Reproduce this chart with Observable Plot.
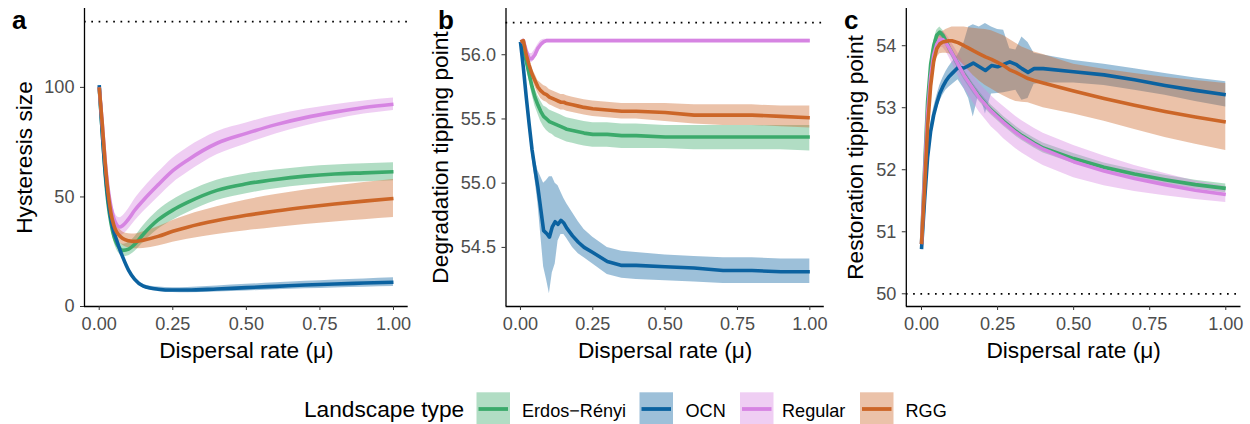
<!DOCTYPE html>
<html><head><meta charset="utf-8">
<script src="https://cdn.jsdelivr.net/npm/d3@7"></script>
<script src="https://cdn.jsdelivr.net/npm/@observablehq/plot@0.6"></script>
<style>
body{margin:0;background:#fff;}
#fig{position:relative;width:1250px;height:424px;overflow:hidden;font-family:"Liberation Sans",Arial,Helvetica,sans-serif;background:#fff;}
.panel{position:absolute;top:0;}
</style></head><body>
<div id="fig">
<div class="panel" id="pa" style="left:0px"></div>
<div class="panel" id="pb" style="left:420px"></div>
<div class="panel" id="pc" style="left:830px"></div>
<svg id="ov" width="1250" height="424" style="position:absolute;left:0;top:0;pointer-events:none"></svg>
</div>
<script>
// ---------- categories & colours ----------
const types = ["Erdos−Rényi", "OCN", "Regular", "RGG"];
const colors = ["#3BAA6B", "#0B62A0", "#D684E2", "#CC6628"];
const xTicks = [0, 0.25, 0.5, 0.75, 1];

// ---------- panel a : Hysteresis size ----------
const xa = [0, .01, .02, .03, .04, .05, .06, .07, .08, .1, .12, .15, .2, .25, .3, .4, .5, .6, .7, .8, .9, 1];
const aER_m  = [100,80,61,47,38,32,28.5,26.5,25.6,26.2,28.3,33,39.5,44,47.5,53,56,58,59.5,60.5,61,61.5];
const aER_lo = [100,79,59.5,45,35.7,29.5,25.8,23.8,22.8,23.2,25,29.2,35.2,39.4,42.8,48.4,51.5,53.7,55.3,56.4,56.9,57.4];
const aER_hi = [100,81,62.5,49,40.3,34.5,31.2,29.2,28.4,29.2,31.6,36.8,43.8,48.6,52.2,57.6,60.5,62.3,63.7,64.6,65.1,65.6];
const aOCN_m  = [101,80,62,49,40,34,30,26,22.5,16.5,12.5,9.3,7.9,7.5,7.5,8,8.6,9.2,9.8,10.3,10.7,11.1];
const aOCN_lo = [100.5,79.3,61.2,48.2,39.2,33.2,29.2,25.2,21.7,15.7,11.7,8.4,6.9,6.4,6.3,6.6,7.1,7.6,8.1,8.5,8.8,9.1];
const aOCN_hi = [101.5,80.7,62.8,49.8,40.8,34.8,30.8,26.8,23.3,17.3,13.3,10.2,8.9,8.6,8.7,9.4,10.1,10.8,11.5,12.1,12.6,13.1];
const aREG_m  = [100,84,67,54,45.5,40,37.2,36.3,37,40,43.8,48.5,55.5,62,66.8,74.5,79,83,86.2,88.7,90.8,92.3];
const aREG_lo = [100,82.5,64.5,51,42,36,33.2,32.1,32.7,35.4,38.8,43.2,49.9,56.3,61.1,69.2,74.2,78.7,82.4,85.3,87.8,89.5];
const aREG_hi = [100,85.5,69.5,57,49,44,41.2,40.5,41.3,44.6,48.8,53.8,61.1,67.7,72.5,79.8,83.8,87.3,90,92.1,93.8,95.1];
const aRGG_m  = [100,84,66,52,42.5,37,33.8,32.2,31,30,29.7,30.3,32,34.3,36.2,39.2,41.6,43.6,45.3,46.8,48.1,49.3];
const aRGG_lo = [100,83,64.5,50,40,34.2,30.8,29.2,28,26.8,26.3,26.5,27.6,29.3,30.7,32.9,34.6,36.1,37.4,38.6,39.6,40.6];
const aRGG_hi = [100,85,67.5,54,45,39.8,36.8,35.2,34,33.2,33.1,34.1,36.4,39.3,41.7,45.5,48.6,51.1,53.2,55,56.6,58];

// ---------- panel b : Degradation tipping point ----------
const xb = [0, .01, .02, .03, .04, .05, .06, .07, .08, .09, .1, .11, .12, .13, .14, .15, .16, .18, .2, .22, .25, .3, .35, .4, .5, .6, .7, .8, .9, 1];
const bER_m  = [56.1,56.05,55.95,55.85,55.75,55.67,55.61,55.56,55.52,55.5,55.48,55.47,55.46,55.45,55.44,55.43,55.42,55.41,55.4,55.39,55.38,55.38,55.37,55.37,55.36,55.36,55.36,55.36,55.36,55.36];
const bER_lo = [56.1,56.03,55.91,55.8,55.69,55.6,55.54,55.48,55.44,55.41,55.39,55.38,55.36,55.35,55.34,55.33,55.32,55.31,55.3,55.29,55.28,55.28,55.27,55.27,55.27,55.26,55.26,55.26,55.26,55.25];
const bER_hi = [56.1,56.07,55.99,55.9,55.81,55.74,55.68,55.64,55.6,55.59,55.57,55.56,55.55,55.54,55.53,55.52,55.51,55.5,55.49,55.48,55.47,55.47,55.46,55.46,55.45,55.45,55.45,55.45,55.45,55.45];
const bOCN_m  = [56.1,55.9,55.67,55.46,55.26,55.11,54.97,54.8,54.63,54.61,54.58,54.66,54.7,54.68,54.71,54.69,54.65,54.59,54.54,54.5,54.46,54.39,54.36,54.36,54.35,54.34,54.32,54.32,54.31,54.31];
const bOCN_lo = [56.1,55.87,55.63,55.41,55.2,55.03,54.85,54.6,54.35,54.25,54.14,54.3,54.37,54.55,54.6,54.6,54.57,54.5,54.45,54.42,54.37,54.29,54.26,54.25,54.24,54.23,54.22,54.22,54.22,54.22];
const bOCN_hi = [56.1,55.93,55.71,55.51,55.32,55.19,55.1,55.05,55.0,55.02,55.05,55.05,55.0,54.98,54.93,54.88,54.84,54.77,54.7,54.64,54.58,54.5,54.47,54.46,54.44,54.43,54.42,54.42,54.41,54.41];
const bREG_m  = [56.1,56.11,56.03,55.97,55.97,56.0,56.05,56.08,56.1,56.11,56.11,56.11,56.11,56.11,56.11,56.11,56.11,56.11,56.11,56.11,56.11,56.11,56.11,56.11,56.11,56.11,56.11,56.11,56.11,56.11];
const bREG_lo = [56.1,56.1,56.0,55.94,55.94,55.97,56.02,56.06,56.09,56.1,56.1,56.1,56.1,56.1,56.1,56.1,56.1,56.1,56.1,56.1,56.1,56.1,56.1,56.1,56.1,56.1,56.1,56.1,56.1,56.1];
const bREG_hi = [56.1,56.13,56.07,56.01,56.01,56.04,56.08,56.11,56.12,56.12,56.12,56.12,56.12,56.12,56.12,56.12,56.12,56.12,56.12,56.12,56.12,56.12,56.12,56.12,56.12,56.12,56.12,56.12,56.12,56.12];
const bRGG_m  = [56.1,56.11,56.0,55.92,55.85,55.8,55.75,55.72,55.7,55.69,55.67,55.66,55.65,55.64,55.63,55.63,55.62,55.61,55.6,55.59,55.58,55.57,55.56,55.56,55.55,55.53,55.53,55.53,55.52,55.51];
const bRGG_lo = [56.1,56.1,55.98,55.89,55.81,55.75,55.7,55.66,55.64,55.63,55.61,55.6,55.59,55.58,55.57,55.57,55.56,55.55,55.54,55.53,55.52,55.51,55.5,55.5,55.48,55.46,55.45,55.45,55.44,55.43];
const bRGG_hi = [56.1,56.12,56.02,55.95,55.89,55.85,55.8,55.78,55.76,55.75,55.73,55.72,55.71,55.7,55.69,55.69,55.68,55.67,55.66,55.65,55.64,55.63,55.62,55.62,55.62,55.61,55.61,55.61,55.6,55.6];

// ---------- panel c : Restoration tipping point ----------
const xc = [0, .01, .02, .03, .04, .05, .06, .07, .08, .09, .1, .12, .14, .155, .17, .19, .21, .23, .25, .27, .29, .31, .33, .35, .37, .4, .5, .6, .7, .8, .9, 1];
const cER_m  = [50.8,52.0,53.1,53.7,54.0,54.17,54.22,54.17,54.08,53.97,53.88,53.7,53.53,53.42,53.31,53.18,53.06,52.96,52.87,52.78,52.7,52.62,52.55,52.49,52.43,52.35,52.18,52.04,51.93,51.84,51.76,51.7];
const cER_lo = [50.75,51.93,53.02,53.62,53.92,54.09,54.14,54.09,54.0,53.89,53.8,53.62,53.45,53.34,53.23,53.1,52.98,52.88,52.79,52.7,52.62,52.54,52.47,52.41,52.35,52.27,52.1,51.97,51.86,51.77,51.69,51.63];
const cER_hi = [50.85,52.07,53.18,53.78,54.08,54.25,54.3,54.25,54.16,54.05,53.96,53.78,53.61,53.5,53.39,53.26,53.14,53.04,52.95,52.86,52.78,52.7,52.63,52.57,52.51,52.43,52.26,52.11,52.0,51.91,51.83,51.77];
const cOCN_m  = [50.72,51.5,52.2,52.62,52.88,53.07,53.23,53.34,53.43,53.5,53.55,53.65,53.64,53.68,53.72,53.66,53.6,53.68,53.66,53.7,53.74,53.7,53.63,53.57,53.63,53.63,53.58,53.53,53.45,53.36,53.28,53.21];
const cOCN_lo = [50.68,51.4,52.1,52.5,52.76,52.95,53.1,53.2,53.28,53.33,53.37,53.45,53.3,53.15,52.85,53.25,52.9,53.22,53.23,53.24,53.26,53.28,53.12,53.15,53.38,53.4,53.4,53.36,53.28,53.2,53.1,53.01];
const cOCN_hi = [50.76,51.6,52.3,52.74,53.0,53.19,53.36,53.48,53.58,53.66,53.73,53.85,54.05,54.3,54.34,54.3,54.36,54.3,54.26,54.25,53.95,53.93,54.14,54.05,53.88,53.85,53.76,53.7,53.63,53.55,53.48,53.42];
const cREG_m  = [50.8,51.9,52.9,53.5,53.85,54.02,54.1,54.1,54.05,53.97,53.88,53.7,53.52,53.41,53.3,53.16,53.05,52.94,52.85,52.76,52.68,52.6,52.53,52.47,52.41,52.33,52.13,51.98,51.86,51.76,51.67,51.6];
const cREG_lo = [50.75,51.82,52.8,53.4,53.75,53.92,53.98,53.97,53.91,53.82,53.72,53.52,53.32,53.2,53.08,52.93,52.81,52.69,52.6,52.5,52.42,52.34,52.27,52.21,52.15,52.07,51.87,51.74,51.65,51.58,51.52,51.47];
const cREG_hi = [50.85,51.98,53.0,53.6,53.95,54.12,54.22,54.23,54.19,54.12,54.04,53.88,53.72,53.62,53.52,53.39,53.29,53.19,53.1,53.02,52.94,52.86,52.79,52.73,52.67,52.59,52.39,52.22,52.07,51.94,51.82,51.73];
const cRGG_m  = [50.8,51.7,52.7,53.35,53.75,53.95,54.03,54.06,54.07,54.08,54.08,54.05,54.0,53.96,53.92,53.87,53.82,53.78,53.73,53.68,53.61,53.57,53.52,53.47,53.44,53.4,53.27,53.15,53.04,52.94,52.85,52.77];
const cRGG_lo = [50.75,51.6,52.55,53.2,53.6,53.8,53.87,53.88,53.88,53.87,53.85,53.78,53.68,53.6,53.52,53.43,53.36,53.3,53.24,53.19,53.14,53.1,53.09,53.08,53.05,53.0,52.9,52.78,52.65,52.52,52.41,52.31];
const cRGG_hi = [50.85,51.8,52.85,53.5,53.9,54.1,54.2,54.23,54.26,54.28,54.3,54.3,54.3,54.29,54.28,54.27,54.26,54.24,54.2,54.16,54.1,54.04,53.98,53.94,53.9,53.86,53.7,53.62,53.55,53.49,53.44,53.39];

// ---------- build tidy rows ----------
function build(xs, series) {
  return types.flatMap((t, k) => xs.map((x, i) => ({x, t, m: series[k][0][i], lo: series[k][1][i], hi: series[k][2][i]})));
}
const rowsA = build(xa, [[aER_m,aER_lo,aER_hi],[aOCN_m,aOCN_lo,aOCN_hi],[aREG_m,aREG_lo,aREG_hi],[aRGG_m,aRGG_lo,aRGG_hi]]);
const rowsB = build(xb, [[bER_m,bER_lo,bER_hi],[bOCN_m,bOCN_lo,bOCN_hi],[bREG_m,bREG_lo,bREG_hi],[bRGG_m,bRGG_lo,bRGG_hi]]);
const rowsC = build(xc, [[cER_m,cER_lo,cER_hi],[cOCN_m,cOCN_lo,cOCN_hi],[cREG_m,cREG_lo,cREG_hi],[cRGG_m,cRGG_lo,cRGG_hi]]);

const FONT = "'Liberation Sans', Arial, Helvetica, sans-serif";
const TICK_FS = 18.1, TITLE_FS = 22.7;

function panel({rows, width, ml, mr, ydomain, yticks, yfmt, hline, ylab, ylabDx, curve}) {
  return Plot.plot({
    width, height: 370, marginLeft: ml, marginRight: mr, marginTop: 8, marginBottom: 64,
    style: {fontFamily: FONT, fontSize: TICK_FS + "px", background: "transparent", overflow: "visible", color: "#333"},
    x: {domain: [-0.05, 1.05]},
    y: {domain: ydomain},
    color: {domain: types, range: colors},
    marks: [
      Plot.areaY(rows, {x: "x", y1: "lo", y2: "hi", z: "t", fill: "t", fillOpacity: 0.4, curve}),
      Plot.line(rows, {x: "x", y: "m", z: "t", stroke: "t", strokeWidth: 3.6, strokeLinecap: "butt", curve}),
      Plot.ruleY([hline], {stroke: "black", strokeWidth: 1.7, strokeDasharray: "1.7,5.6"}),
      Plot.ruleX([-0.05], {stroke: "black", strokeWidth: 1.3}),
      Plot.ruleY([ydomain[0]], {stroke: "black", strokeWidth: 1.3}),
      Plot.axisX({ticks: xTicks, tickFormat: d3.format(".2f"), tickSize: 4, tickPadding: 7, fontSize: TICK_FS, fill: "#4D4D4D", stroke: "#333", label: null}),
      Plot.axisY({ticks: yticks, tickFormat: yfmt, tickSize: 4, tickPadding: 6, fontSize: TICK_FS, fill: "#4D4D4D", stroke: "#333", label: null}),
      Plot.text([ylab], {text: d => d, frameAnchor: "left", rotate: -90, dx: ylabDx, textAnchor: "middle", lineAnchor: "top", fontSize: TITLE_FS, fill: "black"}),
      Plot.text(["Dispersal rate (μ)"], {text: d => d, frameAnchor: "bottom", dy: 44, textAnchor: "middle", lineAnchor: "middle", fontSize: TITLE_FS, fill: "black"})
    ]
  });
}

document.getElementById("pa").append(panel({rows: rowsA, width: 420, ml: 84, mr: 12.3, ydomain: [0, 136], yticks: [0, 50, 100], yfmt: d3.format("d"), hline: 130, ylab: "Hysteresis size", ylabDx: -69, curve: "monotone-x"}));
document.getElementById("pb").append(panel({rows: rowsB, width: 410, ml: 85.5, mr: 6.2, ydomain: [54.04, 56.36], yticks: [54.5, 55, 55.5, 56], yfmt: d3.format(".1f"), hline: 56.25, ylab: "Degradation tipping point", ylabDx: -73.8, curve: "linear"}));
document.getElementById("pc").append(panel({rows: rowsC, width: 420, ml: 75.8, mr: 9.5, ydomain: [49.795, 54.6], yticks: [50, 51, 52, 53, 54], yfmt: d3.format("d"), hline: 50, ylab: "Restoration tipping point", ylabDx: -59.1, curve: "linear"}));

// ---------- overlay: panel letters & legend ----------
const ov = d3.select("#ov");
const letters = [["a", 12], ["b", 438], ["c", 844]];
ov.selectAll("text.lt").data(letters).join("text").attr("class", "lt")
  .attr("x", d => d[1]).attr("y", 28.5).attr("font-family", FONT).attr("font-weight", "bold")
  .attr("font-size", 26).attr("fill", "black").text(d => d[0]);

ov.append("text").attr("x", 304).attr("y", 417).attr("font-family", FONT).attr("font-size", TITLE_FS)
  .attr("fill", "black").text("Landscape type");

const keyX = [476.5, 639.5, 740, 860];
const labX = [522, 685.5, 782, 905.5];
types.forEach((t, i) => {
  ov.append("rect").attr("x", keyX[i]).attr("y", 392.3).attr("width", 33.5).attr("height", 33.5)
    .attr("fill", colors[i]).attr("fill-opacity", 0.4);
  ov.append("line").attr("x1", keyX[i] + 2).attr("x2", keyX[i] + 31.5).attr("y1", 409).attr("y2", 409)
    .attr("stroke", colors[i]).attr("stroke-width", 3.8);
  ov.append("text").attr("x", labX[i]).attr("y", 416.5).attr("font-family", FONT).attr("font-size", TICK_FS)
    .attr("fill", "black").text(t);
});
</script>
</body></html>
